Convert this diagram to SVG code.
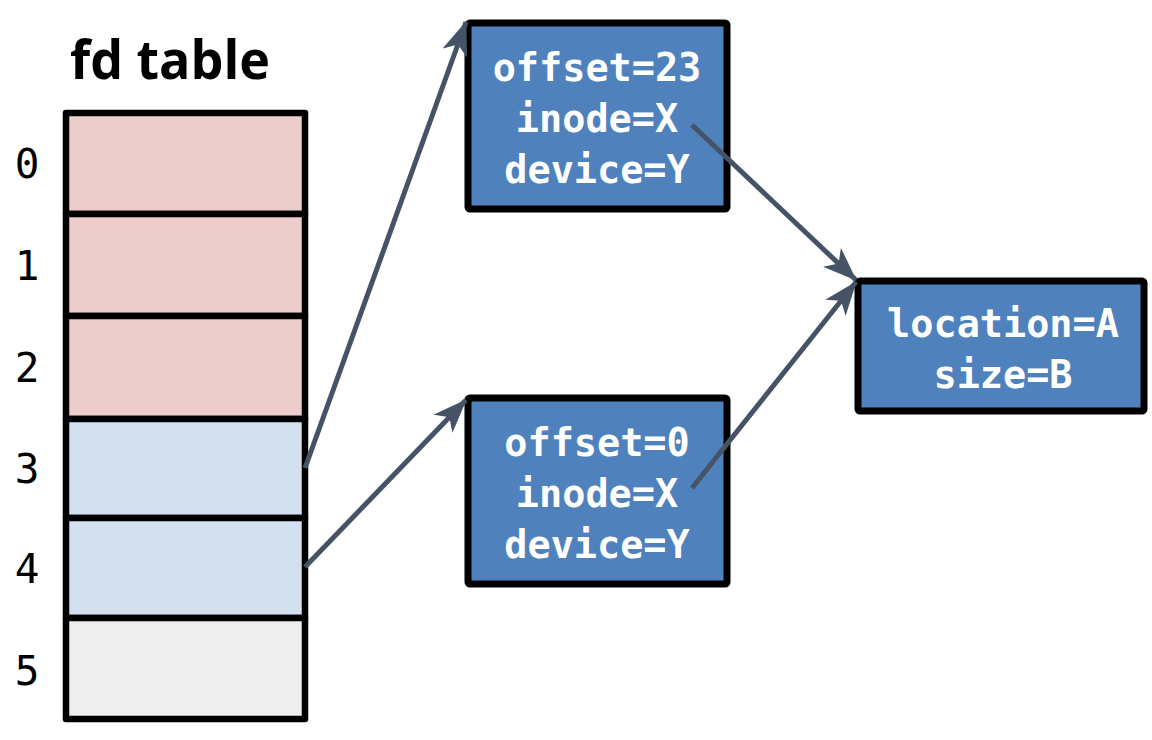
<svg xmlns="http://www.w3.org/2000/svg" width="1152" height="740" viewBox="0 0 1152 740">
<style>
.cell{stroke:#000;stroke-width:6.5;stroke-linejoin:round}
.box{fill:#4F81BD;stroke:#000;stroke-width:7;stroke-linejoin:round}
.bt{font-family:"DejaVu Sans Mono","Liberation Mono",monospace;font-weight:bold;font-size:38.5px;fill:#fff;text-anchor:middle}
.num{font-family:"DejaVu Sans Mono","Liberation Mono",monospace;font-size:41px;fill:#000;text-anchor:middle}
.title{font-family:"Open Sans","Noto Sans",sans-serif;font-weight:bold;font-size:54px;fill:#000}
.conn{stroke:#465366;stroke-width:5;fill:none;marker-end:url(#ah)}
</style>
<defs>
<marker id="ah" viewBox="0 0 34 26" refX="33" refY="13" markerWidth="34" markerHeight="26" markerUnits="userSpaceOnUse" orient="auto">
<path d="M0,0 L34,13 L0,26 L9,13 Z" fill="#465366"/>
</marker>
</defs>
<text class="title" x="70" y="79" textLength="200" lengthAdjust="spacingAndGlyphs">fd table</text>
<g id="fdtable">
<g id="row0"><rect class="cell" x="66" y="113" width="239" height="101" fill="#ECCDCB"/><text class="num" x="27" y="178">0</text></g>
<g id="row1"><rect class="cell" x="66" y="214" width="239" height="102" fill="#ECCDCB"/><text class="num" x="27" y="280">1</text></g>
<g id="row2"><rect class="cell" x="66" y="316" width="239" height="103" fill="#ECCDCB"/><text class="num" x="27" y="382">2</text></g>
<g id="row3"><rect class="cell" x="66" y="419" width="239" height="99" fill="#D3E0F0"/><text class="num" x="27" y="483">3</text></g>
<g id="row4"><rect class="cell" x="66" y="518" width="239" height="100" fill="#D3E0F0"/><text class="num" x="27" y="583">4</text></g>
<g id="row5"><rect class="cell" x="66" y="618" width="239" height="101" fill="#EEEEEE"/><text class="num" x="27" y="685">5</text></g>
</g>
<g id="file1">
<rect class="box" x="468" y="23" width="259" height="186" rx="2"/>
<text class="bt" x="597" y="81">offset=23</text>
<text class="bt" x="597" y="132">inode=X</text>
<text class="bt" x="597" y="183">device=Y</text>
</g>
<g id="file2">
<rect class="box" x="468" y="398" width="259" height="186" rx="2"/>
<text class="bt" x="597" y="456">offset=0</text>
<text class="bt" x="597" y="507">inode=X</text>
<text class="bt" x="597" y="558">device=Y</text>
</g>
<g id="inode">
<rect class="box" x="858" y="281" width="286" height="130" rx="2"/>
<text class="bt" x="1003" y="337">location=A</text>
<text class="bt" x="1003" y="388">size=B</text>
</g>
<g id="connectors">
<line class="conn" x1="305" y1="468" x2="466" y2="22"/>
<line class="conn" x1="305" y1="567" x2="466" y2="400"/>
<line class="conn" x1="692" y1="125" x2="856" y2="280"/>
<line class="conn" x1="692" y1="488" x2="856" y2="282"/>
</g>
</svg>
